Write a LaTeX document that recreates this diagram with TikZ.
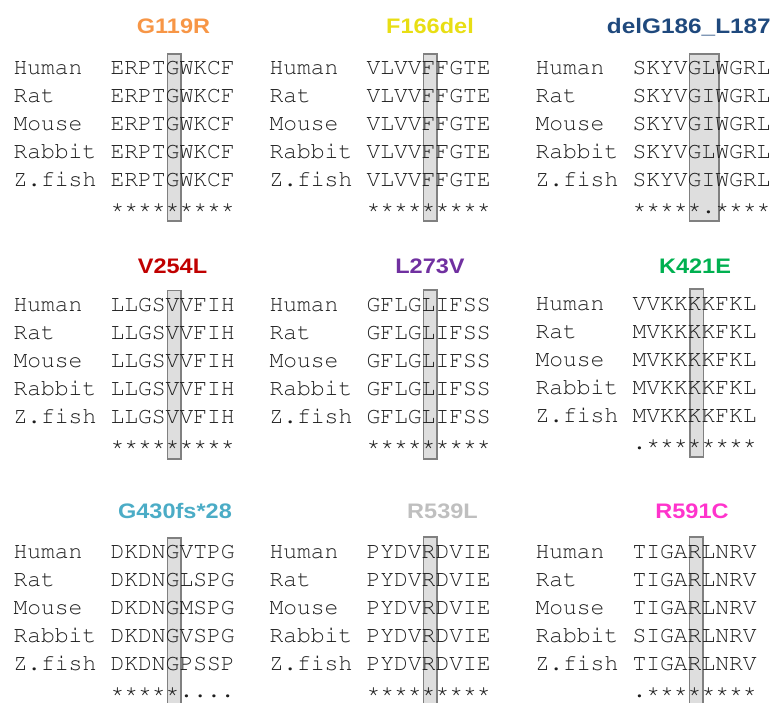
\documentclass[tikz,border=0pt]{standalone}
\usepackage[T1]{fontenc}
\usepackage{fontspec}
\newfontfamily\ttlfont{Liberation Sans}
\newcommand\courfont{\fontencoding{T1}\fontfamily{pcr}\fontseries{m}\fontshape{n}\selectfont}
\definecolor{cOrange}{RGB}{247,150,70}
\definecolor{cYellow}{RGB}{232,222,20}
\definecolor{cNavy}{RGB}{31,73,125}
\definecolor{cRed}{RGB}{192,0,0}
\definecolor{cPurple}{RGB}{112,48,160}
\definecolor{cGreen}{RGB}{0,176,80}
\definecolor{cCyan}{RGB}{75,172,198}
\definecolor{cLgray}{RGB}{191,191,191}
\definecolor{cMagenta}{RGB}{255,51,204}
\definecolor{boxfill}{RGB}{222,222,222}
\definecolor{boxline}{RGB}{128,128,128}
\definecolor{seqtext}{RGB}{30,30,30}
\tikzset{
  lab/.style={anchor=base west, inner sep=0pt, outer sep=0pt, font=\courfont\fontsize{23}{26}\selectfont, text=seqtext},
  ttl/.style={anchor=base, inner sep=0pt, font=\ttlfont\bfseries\fontsize{21}{24}\selectfont},
  hbox/.style={fill=boxfill, draw=boxline, line width=1.5pt}
}
% #1 prefix, #2 label x, #3 first baseline, #4-#8 sequences, #9 conservation line
\newcommand\alnrows[9]{%
  \node[lab] (#1-l1) at (#2,#3) {Human};
  \node[lab] (#1-l2) at (#2,#3+28) {Rat};
  \node[lab] (#1-l3) at (#2,#3+56) {Mouse};
  \node[lab] (#1-l4) at (#2,#3+84) {Rabbit};
  \node[lab] (#1-l5) at (#2,#3+112) {Z.fish};
  \node[lab] (#1-s1) at (#2+97,#3) {#4};
  \node[lab] (#1-s2) at (#2+97,#3+28) {#5};
  \node[lab] (#1-s3) at (#2+97,#3+56) {#6};
  \node[lab] (#1-s4) at (#2+97,#3+84) {#7};
  \node[lab] (#1-s5) at (#2+97,#3+112) {#8};
  \node[lab] (#1-c) at (#2+97,#3+139) {#9};
}
\begin{document}
\begin{tikzpicture}[x=1pt,y=-1pt]
\useasboundingbox (0,0) rectangle (774,702);
% highlight boxes
\draw[hbox] (167.3,54) rectangle (181,221);
\draw[hbox] (423.3,54) rectangle (436.9,221);
\draw[hbox] (689.3,54) rectangle (719,221);
\draw[hbox] (167.3,290.5) rectangle (181,459);
\draw[hbox] (423.3,290) rectangle (437,459);
\draw[hbox] (690,289) rectangle (703.5,457);
\draw[hbox] (167.3,538) rectangle (181,706);
\draw[hbox] (423.3,537) rectangle (437,706);
\draw[hbox] (689.3,537) rectangle (703,706);
% titles
\node[ttl, text=cOrange] (t1) at (173.5,33) {\scalebox{1.12}[1]{G119R}};
\node[ttl, text=cYellow] (t2) at (430,33) {\scalebox{1.12}[1]{F166del}};
\node[ttl, text=cNavy, anchor=base east] (t3) at (771,33) {\scalebox{1.16}[1]{delG186\_L187}};
\node[ttl, text=cRed] (t4) at (172.5,273) {\scalebox{1.12}[1]{V254L}};
\node[ttl, text=cPurple] (t5) at (430,273) {\scalebox{1.12}[1]{L273V}};
\node[ttl, text=cGreen] (t6) at (695,273) {\scalebox{1.12}[1]{K421E}};
\node[ttl, text=cCyan] (t7) at (175,518) {\scalebox{1.12}[1]{G430fs*28}};
\node[ttl, text=cLgray] (t8) at (442.5,518) {\scalebox{1.12}[1]{R539L}};
\node[ttl, text=cMagenta] (t9) at (692,518) {\scalebox{1.12}[1]{R591C}};
% alignments
\alnrows{p1}{13.5}{74}{ERPTGWKCF}{ERPTGWKCF}{ERPTGWKCF}{ERPTGWKCF}{ERPTGWKCF}{*********}
\alnrows{p2}{269.5}{74}{VLVVFFGTE}{VLVVFFGTE}{VLVVFFGTE}{VLVVFFGTE}{VLVVFFGTE}{*********}
\alnrows{p3}{535.5}{74}{SKYVGLWGRL}{SKYVGIWGRL}{SKYVGIWGRL}{SKYVGLWGRL}{SKYVGIWGRL}{*****.****}
\alnrows{p4}{13.5}{311}{LLGSVVFIH}{LLGSVVFIH}{LLGSVVFIH}{LLGSVVFIH}{LLGSVVFIH}{*********}
\alnrows{p5}{269.5}{311}{GFLGLIFSS}{GFLGLIFSS}{GFLGLIFSS}{GFLGLIFSS}{GFLGLIFSS}{*********}
\alnrows{p6}{535.5}{310}{VVKKKKFKL}{MVKKKKFKL}{MVKKKKFKL}{MVKKKKFKL}{MVKKKKFKL}{.********}
\alnrows{p7}{13.5}{558}{DKDNGVTPG}{DKDNGLSPG}{DKDNGMSPG}{DKDNGVSPG}{DKDNGPSSP}{*****....}
\alnrows{p8}{269.5}{558}{PYDVRDVIE}{PYDVRDVIE}{PYDVRDVIE}{PYDVRDVIE}{PYDVRDVIE}{*********}
\alnrows{p9}{535.5}{558}{TIGARLNRV}{TIGARLNRV}{TIGARLNRV}{SIGARLNRV}{TIGARLNRV}{.********}
\end{tikzpicture}
\end{document}
